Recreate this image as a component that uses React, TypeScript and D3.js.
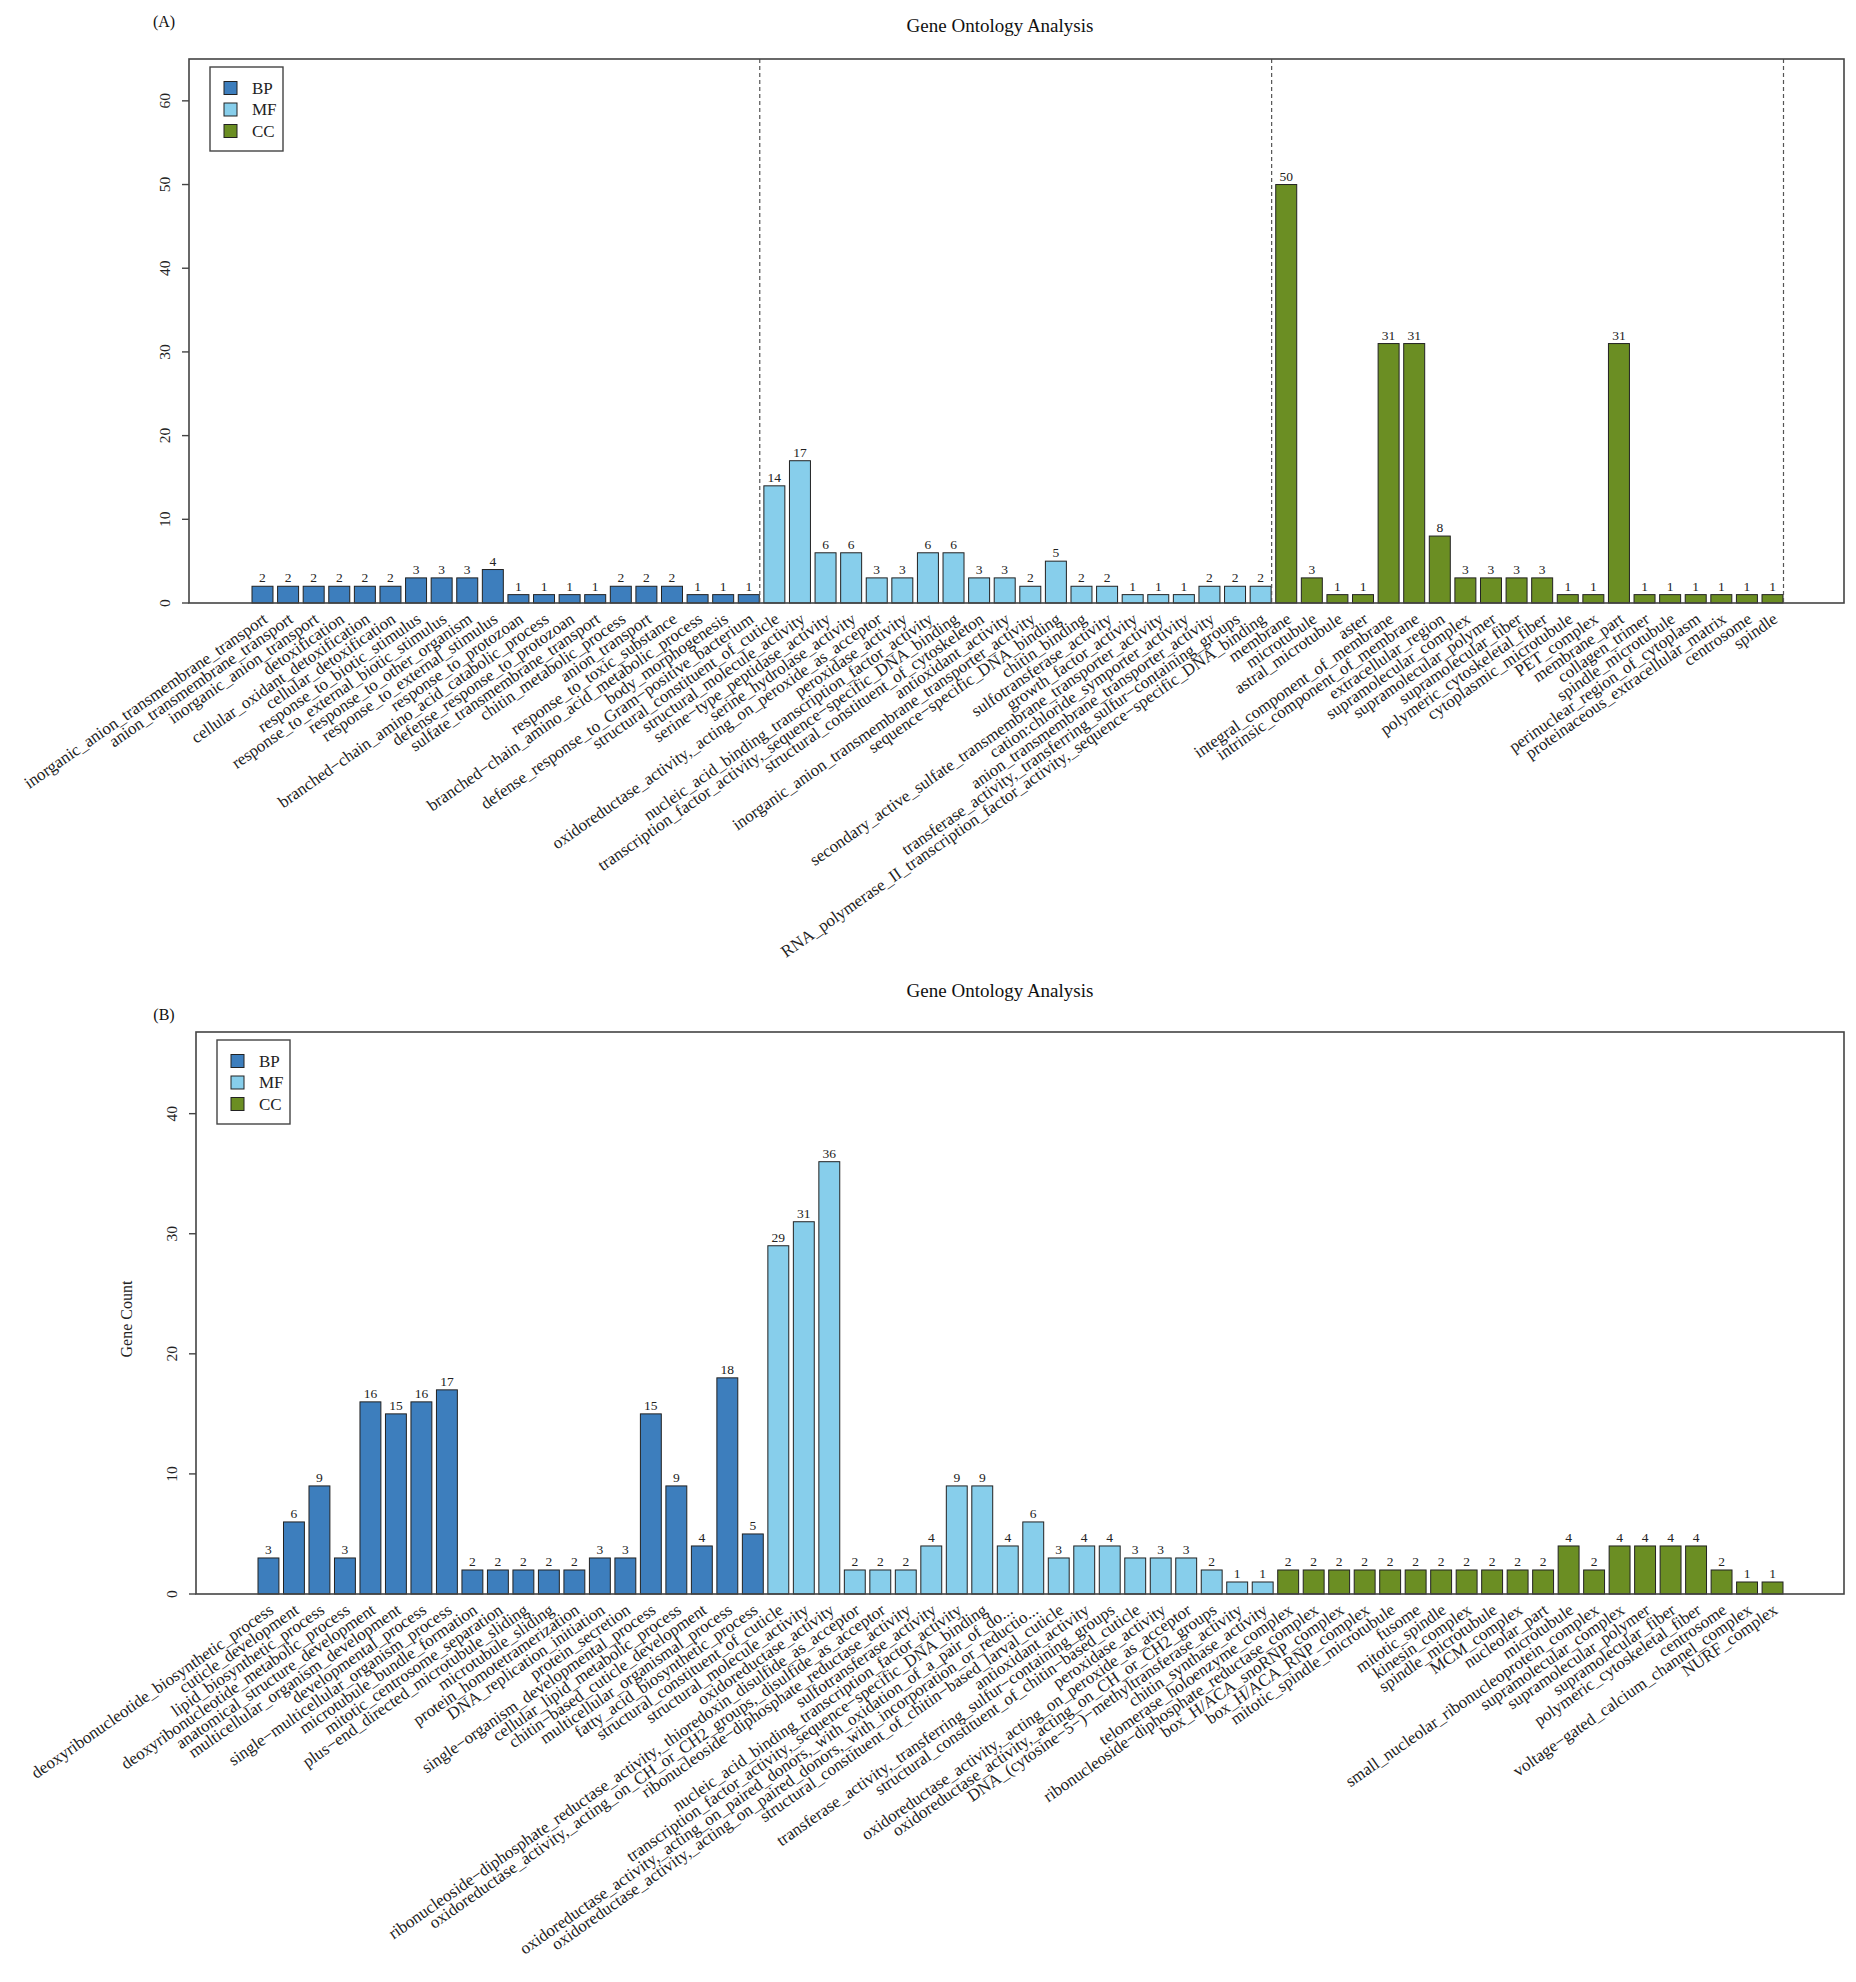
import React from 'react';
import * as d3 from 'd3';

// ---- Panel A data ----
const aBpTerms = [
  'inorganic_anion_transmembrane_transport', 'anion_transmembrane_transport', 'inorganic_anion_transport',
  'detoxification', 'cellular_oxidant_detoxification', 'cellular_detoxification', 'response_to_biotic_stimulus',
  'response_to_external_biotic_stimulus', 'response_to_other_organism', 'response_to_external_stimulus',
  'response_to_protozoan', 'branched−chain_amino_acid_catabolic_process', 'defense_response_to_protozoan',
  'sulfate_transmembrane_transport', 'chitin_metabolic_process', 'anion_transport', 'response_to_toxic_substance',
  'branched−chain_amino_acid_metabolic_process', 'body_morphogenesis', 'defense_response_to_Gram−positive_bacterium',
];
const aBpCounts = [2, 2, 2, 2, 2, 2, 3, 3, 3, 4, 1, 1, 1, 1, 2, 2, 2, 1, 1, 1];

const aMfTerms = [
  'structural_constituent_of_cuticle', 'structural_molecule_activity', 'serine−type_peptidase_activity',
  'serine_hydrolase_activity', 'oxidoreductase_activity,_acting_on_peroxide_as_acceptor', 'peroxidase_activity',
  'nucleic_acid_binding_transcription_factor_activity', 'transcription_factor_activity,_sequence−specific_DNA_binding',
  'structural_constituent_of_cytoskeleton', 'antioxidant_activity', 'inorganic_anion_transmembrane_transporter_activity',
  'sequence−specific_DNA_binding', 'chitin_binding', 'sulfotransferase_activity', 'growth_factor_activity',
  'secondary_active_sulfate_transmembrane_transporter_activity', 'cation:chloride_symporter_activity',
  'anion_transmembrane_transporter_activity', 'transferase_activity,_transferring_sulfur−containing_groups',
  'RNA_polymerase_II_transcription_factor_activity,_sequence−specific_DNA_binding',
];
const aMfCounts = [14, 17, 6, 6, 3, 3, 6, 6, 3, 3, 2, 5, 2, 2, 1, 1, 1, 2, 2, 2];

const aCcTerms = [
  'membrane', 'microtubule', 'astral_microtubule', 'aster', 'integral_component_of_membrane',
  'intrinsic_component_of_membrane', 'extracellular_region', 'supramolecular_complex', 'supramolecular_polymer',
  'supramolecular_fiber', 'polymeric_cytoskeletal_fiber', 'cytoplasmic_microtubule', 'PET_complex', 'membrane_part',
  'collagen_trimer', 'spindle_microtubule', 'perinuclear_region_of_cytoplasm', 'proteinaceous_extracellular_matrix',
  'centrosome', 'spindle',
];
const aCcCounts = [50, 3, 1, 1, 31, 31, 8, 3, 3, 3, 3, 1, 1, 31, 1, 1, 1, 1, 1, 1];

// ---- Panel B data ----
const bBpTerms = [
  'deoxyribonucleotide_biosynthetic_process', 'cuticle_development', 'lipid_biosynthetic_process',
  'deoxyribonucleotide_metabolic_process', 'anatomical_structure_development', 'multicellular_organism_development',
  'developmental_process', 'single−multicellular_organism_process', 'microtubule_bundle_formation',
  'mitotic_centrosome_separation', 'plus−end_directed_microtubule_sliding', 'microtubule_sliding',
  'protein_homotetramerization', 'DNA_replication_initiation', 'protein_secretion',
  'single−organism_developmental_process', 'cellular_lipid_metabolic_process', 'chitin−based_cuticle_development',
  'multicellular_organismal_process', 'fatty_acid_biosynthetic_process',
];
const bBpCounts = [3, 6, 9, 3, 16, 15, 16, 17, 2, 2, 2, 2, 2, 3, 3, 15, 9, 4, 18, 5];

const bMfTerms = [
  'structural_constituent_of_cuticle', 'structural_molecule_activity', 'oxidoreductase_activity',
  'ribonucleoside−diphosphate_reductase_activity,_thioredoxin_disulfide_as_acceptor',
  'oxidoreductase_activity,_acting_on_CH_or_CH2_groups,_disulfide_as_acceptor',
  'ribonucleoside−diphosphate_reductase_activity', 'sulfotransferase_activity',
  'nucleic_acid_binding_transcription_factor_activity', 'transcription_factor_activity,_sequence−specific_DNA_binding',
  'oxidoreductase_activity,_acting_on_paired_donors,_with_oxidation_of_a_pair_of_do...',
  'oxidoreductase_activity,_acting_on_paired_donors,_with_incorporation_or_reductio...',
  'structural_constituent_of_chitin−based_larval_cuticle', 'antioxidant_activity',
  'transferase_activity,_transferring_sulfur−containing_groups', 'structural_constituent_of_chitin−based_cuticle',
  'peroxidase_activity', 'oxidoreductase_activity,_acting_on_peroxide_as_acceptor',
  'oxidoreductase_activity,_acting_on_CH_or_CH2_groups', 'DNA_(cytosine−5−)−methyltransferase_activity',
  'chitin_synthase_activity',
];
const bMfCounts = [29, 31, 36, 2, 2, 2, 4, 9, 9, 4, 6, 3, 4, 4, 3, 3, 3, 2, 1, 1];

const bCcTerms = [
  'telomerase_holoenzyme_complex', 'ribonucleoside−diphosphate_reductase_complex', 'box_H/ACA_snoRNP_complex',
  'box_H/ACA_RNP_complex', 'mitotic_spindle_microtubule', 'fusome', 'mitotic_spindle', 'kinesin_complex',
  'spindle_microtubule', 'MCM_complex', 'nucleolar_part', 'microtubule', 'small_nucleolar_ribonucleoprotein_complex',
  'supramolecular_complex', 'supramolecular_polymer', 'supramolecular_fiber', 'polymeric_cytoskeletal_fiber',
  'centrosome', 'voltage−gated_calcium_channel_complex', 'NURF_complex',
];
const bCcCounts = [2, 2, 2, 2, 2, 2, 2, 2, 2, 2, 2, 4, 2, 4, 4, 4, 4, 2, 1, 1];

const groupNames = ['BP', 'MF', 'CC'];
const groupColors = ['#3D7EBD', '#87CEEB', '#6B8E23'];

const FONT = '"Liberation Serif", "DejaVu Serif", serif';

interface PanelProps {
  tag: string;
  titleY: number;
  tagY: number;
  box: { left: number; right: number; top: number; bottom: number };
  barLeft: number;
  barRight: number;
  terms: string[][];
  counts: number[][];
  dashed: boolean;
  yTitle?: string;
}

const Panel: React.FC<PanelProps> = ({ tag, titleY, tagY, box, barLeft, barRight, terms, counts, dashed, yTitle }) => {
  const rows = terms.flatMap((g, gi) => g.map((t, i) => ({ term: t, count: counts[gi][i], group: gi })));
  const x = d3.scaleBand<number>()
    .domain(d3.range(rows.length))
    .range([barLeft, barRight])
    .paddingInner(0.18)
    .paddingOuter(0);
  const yMax = (d3.max(rows, d => d.count) || 1) * 1.3;
  const y = d3.scaleLinear().domain([0, yMax]).range([box.bottom, box.top]);
  const ticks = d3.range(0, yMax, 10);
  const bw = x.bandwidth();

  // dashed separators after each group (right edge of its last bar)
  const ends: number[] = [];
  let acc = 0;
  terms.forEach(g => { acc += g.length; ends.push(acc - 1); });

  const legX = box.left + 21;
  const legY = box.top + 8;

  return (
    <g>
      <text x={1000} y={titleY} textAnchor="middle" dominantBaseline="central" fontSize={19} fill="#111">Gene Ontology Analysis</text>
      <text x={164} y={tagY} textAnchor="middle" dominantBaseline="central" fontSize={16} fill="#111">{tag}</text>

      {/* bars */}
      {rows.map((d, i) => (
        <g key={i}>
          <rect x={x(i)} y={y(d.count)} width={bw} height={y(0) - y(d.count)}
            fill={groupColors[d.group]} stroke="#222" strokeWidth={1} />
          <text x={(x(i) as number) + bw / 2} y={y(d.count) - 4} textAnchor="middle" fontSize={13.5} fill="#222">{d.count}</text>
          <text
            transform={`translate(${(x(i) as number) + bw / 2 + 3},${box.bottom + 14}) rotate(-35)`}
            textAnchor="end" dominantBaseline="central" fontSize={17} fill="#222">{d.term}</text>
        </g>
      ))}

      {dashed && ends.map(e => {
        const lx = (x(e) as number) + bw + 0.5;
        return <line key={e} x1={lx} x2={lx} y1={box.top} y2={box.bottom} stroke="#555" strokeWidth={1.2} strokeDasharray="4,3" />;
      })}

      {/* box */}
      <rect x={box.left} y={box.top} width={box.right - box.left} height={box.bottom - box.top}
        fill="none" stroke="#444" strokeWidth={1.6} />

      {/* y axis */}
      {ticks.map(t => (
        <g key={t}>
          <line x1={box.left - 7} x2={box.left} y1={y(t)} y2={y(t)} stroke="#444" strokeWidth={1.4} />
          <text transform={`translate(${box.left - 25},${y(t)}) rotate(-90)`} textAnchor="middle"
            dominantBaseline="central" fontSize={15.5} fill="#222">{t}</text>
        </g>
      ))}
      {yTitle && (
        <text transform={`translate(126,${(box.top + box.bottom) / 2 + 6}) rotate(-90)`} textAnchor="middle"
          dominantBaseline="central" fontSize={16} fill="#222">{yTitle}</text>
      )}

      {/* legend */}
      <rect x={legX} y={legY} width={73} height={84} fill="#fff" stroke="#444" strokeWidth={1.4} />
      {groupNames.map((g, i) => (
        <g key={g}>
          <rect x={legX + 14} y={legY + 21 + i * 21.5 - 6.5} width={13} height={13} fill={groupColors[i]} stroke="#222" strokeWidth={1} />
          <text x={legX + 42} y={legY + 21 + i * 21.5} dominantBaseline="central" fontSize={17} fill="#222">{g}</text>
        </g>
      ))}
    </g>
  );
};

export default function App() {
  if (typeof document !== 'undefined') document.body.style.margin = '0';
  return (
    <svg width={1856} height={1982} viewBox="0 0 1856 1982" style={{ display: 'block', background: '#fff', fontFamily: FONT }}>
      <Panel
        tag="(A)" titleY={25} tagY={21}
        box={{ left: 189, right: 1844, top: 59, bottom: 603 }}
        barLeft={252} barRight={1783}
        terms={[aBpTerms, aMfTerms, aCcTerms]}
        counts={[aBpCounts, aMfCounts, aCcCounts]}
        dashed
      />
      <Panel
        tag="(B)" titleY={990} tagY={1014}
        box={{ left: 196, right: 1844, top: 1032, bottom: 1594 }}
        barLeft={258} barRight={1783}
        terms={[bBpTerms, bMfTerms, bCcTerms]}
        counts={[bBpCounts, bMfCounts, bCcCounts]}
        dashed={false}
        yTitle="Gene Count"
      />
    </svg>
  );
}
